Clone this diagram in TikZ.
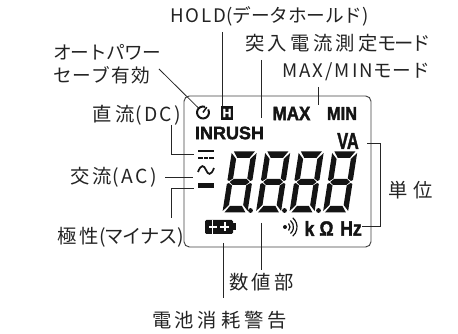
\documentclass[tikz,border=0pt]{standalone}
\usepackage{xcolor}
\usepackage{fontspec}
\setmainfont{Noto Sans CJK JP}
\setsansfont{Liberation Sans}[BoldFeatures={FakeBold=2}]
\usetikzlibrary{positioning}
\definecolor{labelgray}{RGB}{35, 35, 35}
\definecolor{lcdblack}{RGB}{20, 20, 20}
\newcommand{\spaced}[2]{{\addfontfeature{LetterSpace=#1}#2}}
\tikzset{
    digit/.pic={
        \fill[lcdblack] (2,-60.5) -- (23,-60.5) -- (18.5,-54) -- (6.5,-54) -- cycle;
        \fill[lcdblack] (0,-59) -- (5.4,-53) -- (5.4,-33.5) -- (1.8,-31) -- (0,-32) -- cycle;
        \fill[lcdblack] (25,-59) -- (19.6,-53) -- (19.6,-33.5) -- (23.2,-31) -- (25,-32) -- cycle;
        \fill[lcdblack] (2.6,-30) -- (6,-33) -- (19,-33) -- (22.4,-30) -- (19,-27) -- (6,-27) -- cycle;
        \fill[lcdblack] (0,-1) -- (5.4,-7) -- (5.4,-26.5) -- (1.8,-29) -- (0,-28) -- cycle;
        \fill[lcdblack] (25,-1) -- (19.6,-7) -- (19.6,-26.5) -- (23.2,-29) -- (25,-28) -- cycle;
        \fill[lcdblack] (2,0.5) -- (23,0.5) -- (18.5,-6) -- (6.5,-6) -- cycle;
    }
}
\begin{document}
\begin{tikzpicture}[
    x=0.75pt, y=-0.75pt,
    callout/.style={anchor=west, inner sep=0pt, outer sep=0pt, text=labelgray, font=\fontsize{14.5}{17}\selectfont, align=left},
    kana/.style={callout, font=\fontsize{14}{17}\selectfont},
    lcdtext/.style={inner sep=0pt, text=lcdblack, font=\sffamily\bfseries\fontsize{#1}{#1}\selectfont},
    leader/.style={draw=black!85, line width=0.6pt},
    iconline/.style={draw=lcdblack, line width=1.5pt}
]
    \useasboundingbox (0,0) rectangle (458,334);

    % LCD panel
    \node[draw=black!75, line width=0.7pt, rounded corners=4pt, minimum width=140.25pt, minimum height=113.25pt, inner sep=0pt] (panel) at (277.5,171.5) {};

    % Nodes - labels
    \node[kana] (hold) at (170,16) {\spaced{11}{HOLD}\spaced{-1}{(データホールド)}};
    \node[callout] (inrushlabel) at (245,43) {\spaced{17.5}{突入電流測定}\spaced{-12}{モード}};
    \node[kana] (maxminlabel) at (282,72) {\spaced{11}{MAX/MIN}\spaced{3}{モード}};
    \node[kana] (autopower) at (53,64.5) {\spaced{-4.5}{オートパワー}\\\spaced{6.5}{セーブ有効}};
    \node[callout] (dclabel) at (93,115) {\spaced{19}{直流}\spaced{12}{(DC)}};
    \node[callout] (aclabel) at (70,177) {\spaced{17.5}{交流}\spaced{14}{(AC)}};
    \node[callout] (minuslabel) at (57,237) {\spaced{19}{極性}\spaced{-6}{(マイナス)}};
    \node[callout] (unitlabel) at (388,190) {\spaced{30}{単位}};
    \node[callout] (valuelabel) at (229,282) {\spaced{17.5}{数値部}};
    \node[callout] (batterylabel) at (152,320) {\spaced{19}{電池消耗警告}};

    % Nodes - panel indicators
    \node[circle, minimum size=10pt, inner sep=0pt] (saveicon) at (203,112.5) {};
    \draw[iconline] (saveicon.center) ++(-70:6) arc[start angle=-70, end angle=-390, radius=6];
    \draw[iconline, line width=1.2pt] (saveicon.center) -- ++(-55:6.5);
    \node[fill=lcdblack, minimum width=9.5pt, minimum height=10.5pt, inner sep=0pt, text=white, font=\sffamily\bfseries\fontsize{9}{9}\selectfont] (holdicon) at (227,113) {H};
    \node[lcdtext=13.5] (inrush) at (229.5,133) {INRUSH};
    \node[lcdtext=14.5, xscale=0.88] (maxmark) at (291.5,113.5) {MAX};
    \node[lcdtext=14, xscale=0.88] (minmark) at (342,113.5) {MIN};
    \node[lcdtext=17, xscale=0.72] (vamark) at (348,141) {VA};
    \node[lcdtext=15.5, xscale=0.85] (kmark) at (309.5,228.5) {k};
    \node[lcdtext=15.5, xscale=0.85] (ohmmark) at (326.5,228.5) {Ω};
    \node[lcdtext=15.5, xscale=0.85] (hzmark) at (351,228.5) {Hz};
    \node[fill=lcdblack, minimum width=12pt, minimum height=3.6pt, inner sep=0pt] (minusicon) at (206,185.5) {};
    \node[fill=lcdblack, rounded corners=1pt, minimum width=21pt, minimum height=10.5pt, inner sep=0pt] (batteryicon) at (219,227) {};
    \fill[lcdblack] (232,223.5) rectangle (236,230.5);
    \fill[white] (209,226) rectangle (217,228);
    \fill[white] (220,226) rectangle (229,228);
    \fill[white] (223.5,222.5) rectangle (225.5,231.5);
    \fill[white] (212.3,220) rectangle (213,234);

    % DC and AC marks
    \fill[lcdblack] (198,150) rectangle (214,152);
    \fill[lcdblack] (198,157) rectangle (203,159);
    \fill[lcdblack] (203.8,157) rectangle (208.2,159);
    \fill[lcdblack] (209,157) rectangle (214,159);
    \draw[iconline, line width=1.3pt] (198,172) .. controls (201,164) and (204,165) .. (206,170) .. controls (208,175) and (211,176) .. (214,168);

    % Digits
    \pic[xslant=0.155] (digita) at (222.5,212) {digit};
    \pic[xslant=0.155] (digitb) at (256,212) {digit};
    \pic[xslant=0.155] (digitc) at (289.5,212) {digit};
    \pic[xslant=0.155] (digitd) at (323,212) {digit};
    \fill[lcdblack] (250.5,210.5) circle (2.4);
    \fill[lcdblack] (284.5,210.5) circle (2.4);
    \fill[lcdblack] (318.5,210.5) circle (2.4);

    % Sound mark
    \fill[lcdblack] (285,227) circle (2);
    \draw[lcdblack, line width=0.9pt] (285,227) ++(-45:5) arc[start angle=-45, end angle=45, radius=5];
    \draw[lcdblack, line width=0.9pt] (285,227) ++(-50:8.5) arc[start angle=-50, end angle=50, radius=8.5];
    \draw[lcdblack, line width=0.9pt] (285,227) ++(-50:12) arc[start angle=-50, end angle=50, radius=12];

    % Free ends
    \coordinate (holdtip) at (222,32);
    \coordinate (inrushtip) at (261,60);
    \coordinate (inrushend) at (261,118);
    \coordinate (maxtip) at (318,87);
    \coordinate (maxend) at (318,105);
    \coordinate (savetip) at (159,69);
    \coordinate (dctip) at (171,125);
    \coordinate (dcend) at (194,154);
    \coordinate (actip) at (165,177);
    \coordinate (acend) at (193,177);
    \coordinate (minustip) at (171,218);
    \coordinate (minusend) at (194,188);
    \coordinate (vaend) at (367,143);
    \coordinate (hzend) at (362,226);
    \coordinate (unitbend) at (380,143);
    \coordinate (valuetip) at (261,223);
    \coordinate (valueend) at (261,270);
    \coordinate (batterytip) at (223,243);
    \coordinate (batteryend) at (223,298);

    % Leaders
    \draw[leader] (holdtip) -- (holdtip |- holdicon.north);
    \draw[leader] (inrushtip) -- (inrushend);
    \draw[leader] (maxtip) -- (maxend);
    \draw[leader] (savetip) -- (saveicon);
    \draw[leader] (dctip) |- (dcend);
    \draw[leader] (actip) -- (acend);
    \draw[leader] (minustip) |- (minusend);
    \draw[leader] (vaend) -- (unitbend) |- (hzend);
    \draw[leader] (valuetip) -- (valueend);
    \draw[leader] (batterytip) -- (batteryend);
\end{tikzpicture}
\end{document}
